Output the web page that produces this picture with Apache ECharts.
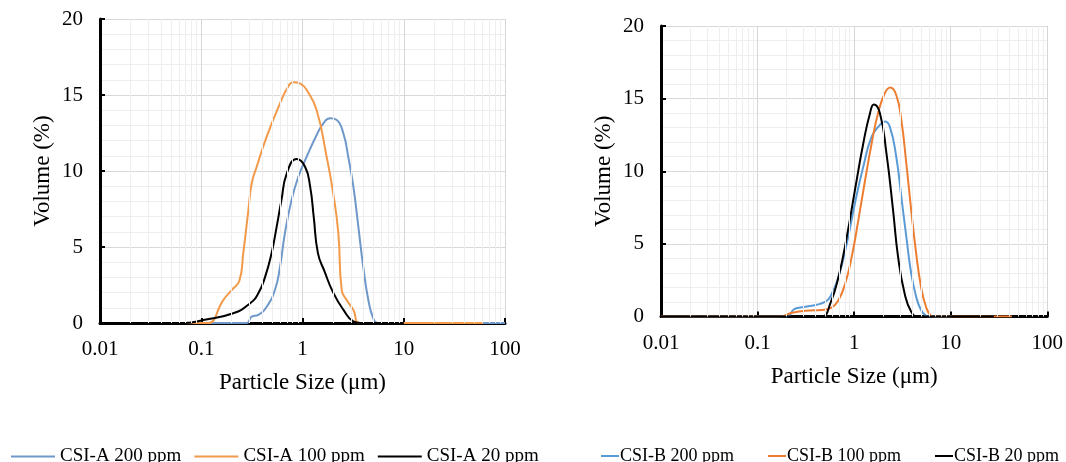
<!DOCTYPE html>
<html>
<head>
<meta charset="utf-8">
<script src="https://cdn.jsdelivr.net/npm/echarts@6/dist/echarts.min.js"></script>
<style>
html,body{margin:0;padding:0;background:#fff;}
#chart{width:1066px;height:462px;}
</style>
</head>
<body>
<div id="chart"></div>
<script>
// ---- Data ----
const xTickLabels = ['0.01', '0.1', '1', '10', '100'];

// CSI-A (left panel)
const a200X = [0.01, 0.1, 0.2, 0.281, 0.315, 0.366, 0.443, 0.534, 0.60, 0.67, 0.78, 0.91, 1.10, 1.38, 1.61, 1.87, 2.18, 2.53, 2.83, 3.18, 3.56, 3.98, 4.47, 5.0, 5.5, 10, 100];
const a200Y = [0, 0, 0, 0, 0.42, 0.53, 1.07, 2.17, 3.7, 5.9, 8.1, 9.62, 10.94, 12.37, 13.14, 13.47, 13.36, 12.48, 10.94, 8.97, 6.34, 3.7, 1.51, 0.3, 0, 0, 0];

const a100X = [0.01, 0.1, 0.117, 0.165, 0.2, 0.238, 0.26, 0.292, 0.315, 0.353, 0.443, 0.60, 0.70, 0.81, 0.95, 1.10, 1.38, 1.73, 2.01, 2.26, 2.44, 2.73, 3.18, 3.70, 10, 61];
const a100Y = [0, 0, 0, 1.51, 2.17, 2.78, 4.6, 7.43, 9.19, 10.28, 12.26, 14.45, 15.4, 15.84, 15.75, 15.33, 14.0, 10.94, 8.53, 5.9, 2.17, 1.51, 0.86, 0, 0, 0];

const a20X = [0.01, 0.07, 0.105, 0.207, 0.304, 0.366, 0.428, 0.495, 0.556, 0.62, 0.70, 0.875, 1.06, 1.19, 1.29, 1.42, 1.65, 2.01, 2.54, 3.18, 3.70, 10];
const a20Y = [0, 0, 0.2, 0.64, 1.30, 1.95, 3.05, 4.59, 6.34, 8.1, 9.85, 10.79, 10.28, 8.97, 7.0, 4.6, 3.4, 2.0, 0.86, 0.1, 0, 0];

// CSI-B (right panel)
const b200X = [0.01, 0.15, 0.204, 0.238, 0.29, 0.40, 0.505, 0.567, 0.69, 0.84, 1.02, 1.245, 1.52, 1.85, 2.08, 2.34, 2.73, 3.08, 3.47, 3.90, 4.39, 4.93, 5.55, 5.9, 10];
const b200Y = [0, 0, 0, 0.49, 0.63, 0.79, 1.02, 1.36, 2.74, 5.04, 7.8, 10.32, 12.38, 13.19, 13.42, 13.07, 11.0, 8.25, 5.5, 2.98, 1.36, 0.45, 0.05, 0, 0];

const b100X = [0.01, 0.12, 0.167, 0.229, 0.314, 0.466, 0.59, 0.69, 0.81, 0.945, 1.107, 1.30, 1.52, 1.77, 2.08, 2.37, 2.73, 3.08, 3.47, 3.90, 4.39, 4.93, 5.55, 6.25, 6.7, 43];
const b100Y = [0, 0, 0, 0.26, 0.40, 0.45, 0.63, 1.14, 2.29, 4.12, 6.65, 9.4, 11.93, 14.0, 15.37, 15.76, 15.25, 13.53, 10.55, 7.33, 4.35, 2.05, 0.67, 0.05, 0, 0];

const b20X = [0.01, 0.35, 0.466, 0.567, 0.69, 0.84, 1.02, 1.245, 1.46, 1.60, 1.85, 2.16, 2.53, 2.85, 3.33, 3.90, 4.57, 28];
const b20Y = [0, 0, 0, 0.91, 2.74, 5.5, 8.71, 11.93, 14.0, 14.6, 14.0, 11.24, 7.33, 4.12, 1.6, 0.33, 0, 0];

const seriesNamesA = ['CSI-A 200 ppm', 'CSI-A 100 ppm', 'CSI-A 20 ppm'];
const seriesNamesB = ['CSI-B 200 ppm', 'CSI-B 100 ppm', 'CSI-B 20 ppm'];

// ---- Build option ----
const FONT = "'Liberation Serif', 'Times New Roman', serif";
const zip = (xs, ys) => xs.map((x, i) => [x, ys[i]]);

// minor log grid lines at 2..9 of each decade
const minorX = [];
[0.01, 0.1, 1, 10].forEach(d => { for (let k = 2; k <= 9; k++) minorX.push(+(k * d).toPrecision(3)); });

function xAxisCfg(gridIndex, gap) {
  return {
    type: 'log', logBase: 10, gridIndex: gridIndex, min: 0.01, max: 100, z: 2,
    axisLine: { show: true, lineStyle: { color: '#000', width: 3 } },
    axisTick: { show: true, inside: true, length: 5, lineStyle: { color: '#000', width: 2 } },
    axisLabel: { color: '#000', fontFamily: FONT, fontSize: 21, margin: 16,
      formatter: (v, i) => xTickLabels[i] !== undefined ? xTickLabels[i] : String(v) },
    splitLine: { show: true, lineStyle: { color: '#d6d6d6', width: 1 } },
    name: 'Particle Size (\u03bcm)', nameLocation: 'middle', nameGap: gap,
    nameTextStyle: { color: '#000', fontFamily: FONT, fontSize: 23 }
  };
}
function yAxisCfg(gridIndex) {
  return {
    type: 'value', gridIndex: gridIndex, min: 0, max: 20, interval: 5, z: 2,
    axisLine: { show: true, lineStyle: { color: '#000', width: 3 } },
    axisTick: { show: true, inside: true, length: 5, lineStyle: { color: '#000', width: 2 } },
    axisLabel: { color: '#000', fontFamily: FONT, fontSize: 21, margin: 17 },
    splitLine: { show: true, lineStyle: { color: '#d9d9d9', width: 1 } },
    minorTick: { show: false, splitNumber: 5 },
    minorSplitLine: { show: true, lineStyle: { color: '#eeeeee', width: 1 } },
    name: 'Volume (%)', nameLocation: 'middle', nameGap: 46,
    nameTextStyle: { color: '#000', fontFamily: FONT, fontSize: 23 }
  };
}
function minorSeries(idx) {
  return {
    type: 'line', xAxisIndex: idx, yAxisIndex: idx, data: [], z: 1, silent: true,
    markLine: { silent: true, symbol: ['none', 'none'], label: { show: false },
      lineStyle: { color: '#eeeeee', width: 1, type: 'solid' },
      emphasis: { disabled: true },
      data: minorX.map(v => ({ xAxis: v })) }
  };
}
function lineSeries(name, idx, data, color) {
  return {
    name: name, type: 'line', xAxisIndex: idx, yAxisIndex: idx, data: data,
    symbol: 'none', showSymbol: false, smooth: 0.5, z: 3,
    lineStyle: { color: color, width: 2 }, itemStyle: { color: color }
  };
}

const colA = ['#6F98CA', '#F29A4A', '#000000'];
const colB = ['#5B9BD5', '#ED7D31', '#000000'];

const option = {
  animation: false,
  backgroundColor: '#fff',
  grid: [
    { left: 100, top: 19, width: 405, height: 304 },
    { left: 661, top: 26, width: 390, height: 290.5 }
  ],
  xAxis: [xAxisCfg(0, 48), xAxisCfg(1, 49)],
  yAxis: [yAxisCfg(0), yAxisCfg(1)],
  legend: [
    { data: seriesNamesA, left: 6, top: 442, icon: 'rect', itemWidth: 44, itemHeight: 2, itemGap: 13,
      textStyle: { color: '#000', fontFamily: FONT, fontSize: 19 } },
    { data: seriesNamesB, left: 596, top: 442, width: 470, icon: 'rect', itemWidth: 18, itemHeight: 2, itemGap: 34,
      textStyle: { color: '#000', fontFamily: FONT, fontSize: 18, padding: [0, 0, 0, -4] } }
  ],
  series: [
    minorSeries(0), minorSeries(1),
    lineSeries(seriesNamesA[0], 0, zip(a200X, a200Y), colA[0]),
    lineSeries(seriesNamesA[1], 0, zip(a100X, a100Y), colA[1]),
    lineSeries(seriesNamesA[2], 0, zip(a20X, a20Y), colA[2]),
    lineSeries(seriesNamesB[0], 1, zip(b200X, b200Y), colB[0]),
    lineSeries(seriesNamesB[1], 1, zip(b100X, b100Y), colB[1]),
    lineSeries(seriesNamesB[2], 1, zip(b20X, b20Y), colB[2])
  ]
};

const chart = echarts.init(document.getElementById('chart'), null, { renderer: 'canvas' });
chart.setOption(option);
</script>
</body>
</html>
